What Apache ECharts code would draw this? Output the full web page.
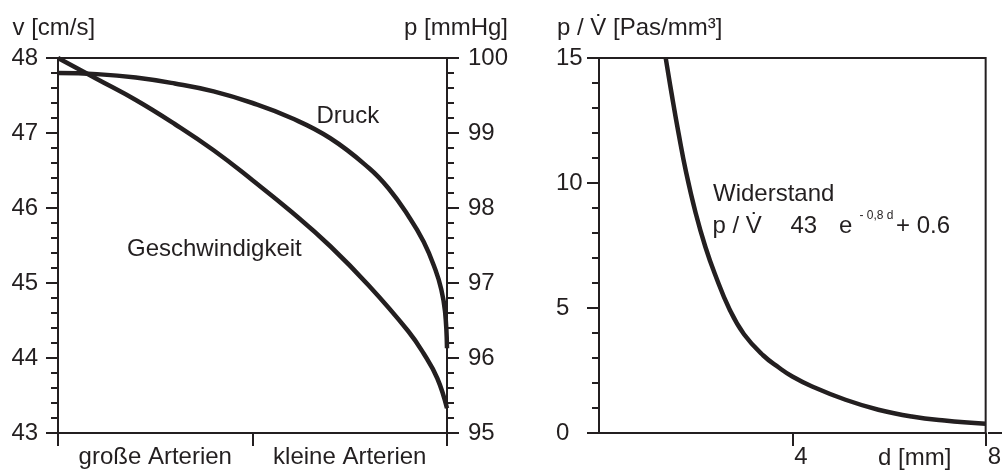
<!DOCTYPE html>
<html>
<head>
<meta charset="utf-8">
<script src="https://cdn.jsdelivr.net/npm/echarts@6/dist/echarts.min.js"></script>
<style>
html,body{margin:0;padding:0;background:#fff;}
#chart{width:1004px;height:473px;}
</style>
</head>
<body>
<div id="chart"></div>
<script>
// ---- data ----
const categories = ['große Arterien', 'kleine Arterien'];

// left panel: normalised position along the arterial tree (0..1)
const velocityPos = [0, 0.1, 0.2, 0.3, 0.4, 0.5, 0.6, 0.7, 0.8, 0.9, 0.94, 0.975, 1.0];
const velocity    = [48.0, 47.72, 47.44, 47.12, 46.77, 46.37, 45.95, 45.49, 44.96, 44.36, 44.06, 43.73, 43.33];

const pressurePos = [0, 0.1, 0.2, 0.3, 0.4, 0.5, 0.6, 0.7, 0.8, 0.85, 0.9, 0.94, 0.97, 0.985, 0.995, 1.0];
const pressure    = [99.80, 99.785, 99.74, 99.66, 99.555, 99.40, 99.20, 98.93, 98.53, 98.26, 97.90, 97.55, 97.18, 96.92, 96.62, 96.13];

// right panel: resistance vs diameter
const diameter   = [1.38, 1.5, 1.65, 1.8, 2.0, 2.2, 2.4, 2.7, 3.0, 3.4, 3.72, 4.0, 4.41, 5.1, 5.78, 6.47, 7.15, 8.0];
const resistance = [15.0, 13.6, 11.95, 10.45, 8.8, 7.45, 6.35, 4.95, 3.95, 3.1, 2.62, 2.26, 1.86, 1.33, 0.93, 0.66, 0.50, 0.37];

const vTicks = [43, 48, 1];
const pTicks = [95, 100, 1];
const rTicks = [0, 15, 5];
const dTicks = [0, 8, 4];

// ---- styling ----
const INK = '#231f20';
const FONT = '"Liberation Sans", Arial, Helvetica, sans-serif';
const FS = 24;

const chart = echarts.init(document.getElementById('chart'), null, {renderer: 'canvas'});

function yAxisBase(gridIndex, ticks, position, margin) {
  return {
    type: 'value', gridIndex: gridIndex, position: position,
    min: ticks[0], max: ticks[1], interval: ticks[2],
    axisLine: {show: true, lineStyle: {color: INK, width: 2}},
    axisTick: {show: true, length: 12, lineStyle: {color: INK, width: 2}},
    minorTick: {show: true, splitNumber: 5, length: 7, lineStyle: {color: INK, width: 2}},
    splitLine: {show: false},
    axisLabel: {color: INK, fontSize: FS, fontFamily: FONT, align: 'left', margin: margin}
  };
}

function txt(text, x, y, size, align) {
  return {
    type: 'text', x: x, y: y, silent: true,
    style: {text: text, fill: INK, fontSize: size || FS, fontFamily: FONT,
            align: align || 'left', verticalAlign: 'middle'}
  };
}

const lineSeries = (name, xi, yi, xs, ys) => ({
  name: name, type: 'line', xAxisIndex: xi, yAxisIndex: yi,
  data: xs.map((x, i) => [x, ys[i]]),
  showSymbol: false, symbol: 'none', smooth: 0.45,
  lineStyle: {color: INK, width: 4.5}, silent: true
});

const option = {
  animation: false,
  backgroundColor: '#ffffff',
  grid: [
    {left: 58, top: 58, width: 389, height: 375, show: true, borderColor: INK, borderWidth: 2, backgroundColor: 'transparent'},
    {left: 599, top: 58, width: 389, height: 375, show: true, borderColor: INK, borderWidth: 2, backgroundColor: 'transparent'}
  ],
  xAxis: [
    {
      type: 'category', gridIndex: 0, data: categories, boundaryGap: true,
      axisLine: {show: true, lineStyle: {color: INK, width: 2}},
      axisTick: {show: true, length: 13, interval: 0, lineStyle: {color: INK, width: 2}},
      axisLabel: {color: INK, fontSize: FS, fontFamily: FONT, margin: 12, interval: 0},
      splitLine: {show: false}
    },
    {
      type: 'value', gridIndex: 0, min: 0, max: 1, show: false
    },
    {
      type: 'value', gridIndex: 1, min: dTicks[0], max: dTicks[1], interval: dTicks[2],
      axisLine: {show: true, lineStyle: {color: INK, width: 2}},
      axisTick: {show: true, length: 13, lineStyle: {color: INK, width: 2}},
      axisLabel: {color: INK, fontSize: FS, fontFamily: FONT, margin: 12, align: 'left',
                  padding: [0, 0, 0, 2], showMinLabel: false, showMaxLabel: true},
      splitLine: {show: false}
    }
  ],
  yAxis: [
    yAxisBase(0, vTicks, 'left', 46.5),
    yAxisBase(0, pTicks, 'right', 21),
    yAxisBase(1, rTicks, 'left', 43)
  ],
  series: [
    lineSeries('Geschwindigkeit', 1, 0, velocityPos, velocity),
    lineSeries('Druck', 1, 1, pressurePos, pressure),
    lineSeries('Widerstand', 2, 2, diameter, resistance)
  ],
  graphic: [
    txt('v [cm/s]', 12.5, 28),
    txt('p [mmHg]', 508, 28, FS, 'right'),
    txt('p / V\u0307 [Pas/mm\u00B3]', 557, 28),
    txt('Druck', 316.5, 116),
    txt('Geschwindigkeit', 127, 249.5),
    txt('Widerstand', 713, 194.5),
    txt('p / V\u0307', 712.5, 226.5),
    txt('43', 790.5, 226.5),
    txt('e', 839, 226.5),
    txt('- 0,8 d', 859.5, 216, 12),
    txt('+ 0.6', 896, 226.5),
    txt('d [mm]', 878, 458),
    {
      type: 'line', silent: true,
      shape: {x1: 988, y1: 433, x2: 1002, y2: 433},
      style: {stroke: INK, lineWidth: 2}
    }
  ]
};

chart.setOption(option);
</script>
</body>
</html>
